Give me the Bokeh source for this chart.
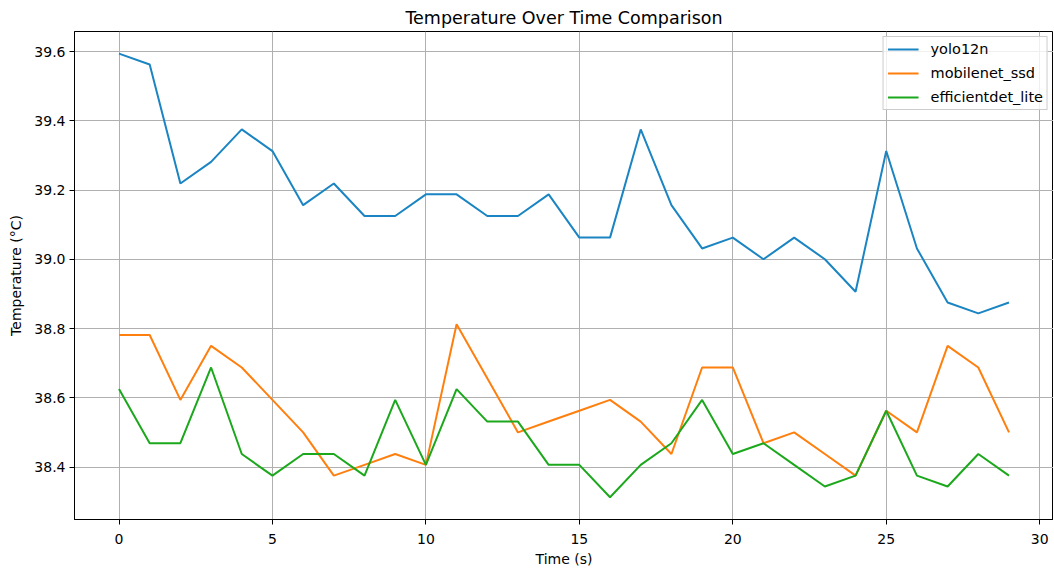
from bokeh.plotting import figure
from bokeh.models import Range1d, FixedTicker, PrintfTickFormatter, Legend, LegendItem
from bokeh.embed import file_html
from bokeh.resources import INLINE

time_s = list(range(30))
yolo12n = [39.59375, 39.5625, 39.21875, 39.28125, 39.375, 39.3125, 39.15625, 39.21875, 39.125, 39.125,
           39.1875, 39.1875, 39.125, 39.125, 39.1875, 39.0625, 39.0625, 39.375, 39.15625, 39.03125,
           39.0625, 39.0, 39.0625, 39.0, 38.90625, 39.3125, 39.03125, 38.875, 38.84375, 38.875]
mobilenet_ssd = [38.78125, 38.78125, 38.59375, 38.75, 38.6875, 38.59375, 38.5, 38.375, 38.40625, 38.4375,
                 38.40625, 38.8125, 38.65625, 38.5, 38.53125, 38.5625, 38.59375, 38.53125, 38.4375, 38.6875,
                 38.6875, 38.46875, 38.5, 38.4375, 38.375, 38.5625, 38.5, 38.75, 38.6875, 38.5]
efficientdet_lite = [38.625, 38.46875, 38.46875, 38.6875, 38.4375, 38.375, 38.4375, 38.4375, 38.375, 38.59375,
                     38.40625, 38.625, 38.53125, 38.53125, 38.40625, 38.40625, 38.3125, 38.40625, 38.46875, 38.59375,
                     38.4375, 38.46875, 38.40625, 38.34375, 38.375, 38.5625, 38.375, 38.34375, 38.4375, 38.375]

series_names = ["yolo12n", "mobilenet_ssd", "efficientdet_lite"]
series_values = [yolo12n, mobilenet_ssd, efficientdet_lite]
series_colors = ["#1a85c2", "#ff7f0e", "#1ca81c"]

x_ticks = [0, 5, 10, 15, 20, 25, 30]
y_ticks = [38.4, 38.6, 38.8, 39.0, 39.2, 39.4, 39.6]

FONT = "DejaVu Sans"

p = figure(frame_width=979, frame_height=488, output_backend="svg", toolbar_location=None,
           min_border_left=74, min_border_right=0, min_border_top=31, min_border_bottom=44,
           x_range=Range1d(-1.45, 30.45), y_range=Range1d(38.2484, 39.6578))

p.title.text = "Temperature Over Time Comparison"
p.title.text_font = FONT
p.title.text_font_size = "17.5px"
p.title.text_font_style = "normal"
p.title.align = "center"
p.title.text_color = "#000000"
p.title.standoff = 7
p.title.offset = 0

p.outline_line_color = "#000000"
p.outline_line_width = 1
p.outline_line_alpha = 1

for ax in (p.xaxis[0], p.yaxis[0]):
    ax.axis_line_color = "#000000"
    ax.major_tick_line_color = "#000000"
    ax.major_tick_out = 5
    ax.major_tick_in = 0
    ax.minor_tick_line_color = None
    ax.major_label_text_font = FONT
    ax.major_label_text_font_size = "14px"
    ax.major_label_text_color = "#000000"
    ax.axis_label_text_font = FONT
    ax.axis_label_text_font_size = "14px"
    ax.axis_label_text_font_style = "normal"
    ax.axis_label_text_color = "#000000"

p.xaxis.ticker = FixedTicker(ticks=x_ticks)
p.yaxis.ticker = FixedTicker(ticks=y_ticks)
p.yaxis.formatter = PrintfTickFormatter(format="%.1f")
p.xaxis.axis_label = "Time (s)"
p.yaxis.axis_label = "Temperature (°C)"
p.xaxis.major_label_standoff = 9
p.yaxis.major_label_standoff = 4
p.xaxis.axis_label_standoff = 4
p.yaxis.axis_label_standoff = 7

p.xgrid.grid_line_color = "#b0b0b0"
p.ygrid.grid_line_color = "#b0b0b0"
p.xgrid.grid_line_width = 1
p.ygrid.grid_line_width = 1

items = []
for name, vals, col in zip(series_names, series_values, series_colors):
    r = p.line(time_s, vals, line_color=col, line_width=2)
    items.append(LegendItem(label=name, renderers=[r]))

legend = Legend(items=items, location="top_right")
legend.label_text_font = FONT
legend.label_text_font_size = "14.5px"
legend.label_text_color = "#000000"
legend.border_line_color = "#cccccc"
legend.border_line_alpha = 1
legend.background_fill_alpha = 0.8
legend.glyph_width = 31
legend.glyph_height = 16
legend.label_height = 16
legend.spacing = 8
legend.padding = 4
legend.margin = 5
legend.label_standoff = 12
p.add_layout(legend)

open("out.html", "w").write(file_html(p, INLINE))
